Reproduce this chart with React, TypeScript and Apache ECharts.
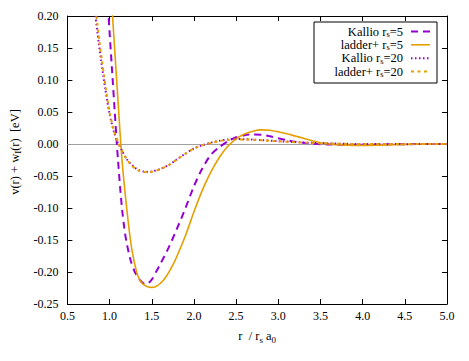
import React, { useEffect, useRef } from "react";
import * as echarts from "echarts";

// ---- data ----
const kallio5X = [0.95, 0.988, 1.03, 1.06, 1.086, 1.1, 1.125, 1.15, 1.175, 1.2, 1.25, 1.3, 1.35, 1.4, 1.43, 1.46, 1.5, 1.55, 1.6, 1.7, 1.8, 1.9, 2.0, 2.1, 2.2, 2.3, 2.4, 2.5, 2.6, 2.7, 2.8, 2.9, 3.0, 3.1, 3.2, 3.3, 3.4, 3.5, 3.7, 3.9, 4.1, 4.3, 4.5, 4.8, 5.0];
const kallio5Y = [0.29, 0.2, 0.114, 0.053, 0, -0.025, -0.068, -0.104, -0.132, -0.153, -0.182, -0.2, -0.211, -0.2175, -0.219, -0.2175, -0.212, -0.2, -0.188, -0.162, -0.132, -0.1, -0.066, -0.038, -0.017, -0.005, 0.004, 0.0105, 0.0138, 0.015, 0.0145, 0.012, 0.009, 0.006, 0.0035, 0.0018, 0.0006, -0.0002, -0.001, -0.0012, -0.001, -0.0006, -0.0003, 0, 0];

const ladder5X = [0.99, 1.035, 1.08, 1.11, 1.133, 1.157, 1.183, 1.222, 1.262, 1.32, 1.36, 1.4, 1.45, 1.5, 1.55, 1.6, 1.65, 1.7, 1.75, 1.8, 1.9, 2.0, 2.1, 2.2, 2.3, 2.4, 2.5, 2.6, 2.7, 2.8, 2.9, 3.0, 3.1, 3.2, 3.3, 3.4, 3.5, 3.6, 3.7, 3.8, 4.0, 4.2, 4.4, 4.6, 4.8, 5.0];
const ladder5Y = [0.29, 0.2, 0.108, 0.047, 0, -0.04, -0.075, -0.123, -0.163, -0.2, -0.213, -0.2195, -0.223, -0.224, -0.2225, -0.218, -0.211, -0.201, -0.189, -0.175, -0.143, -0.106, -0.072, -0.044, -0.021, -0.004, 0.008, 0.0155, 0.02, 0.022, 0.0215, 0.019, 0.016, 0.0125, 0.009, 0.005, 0.002, 0.0002, -0.001, -0.0018, -0.0022, -0.0018, -0.001, -0.0003, 0, 0];

const kallio20X = [0.8, 0.833, 0.87, 0.9, 0.95, 1.0, 1.05, 1.1, 1.15, 1.2, 1.25, 1.3, 1.35, 1.4, 1.45, 1.5, 1.6, 1.7, 1.8, 1.9, 2.0, 2.1, 2.2, 2.3, 2.4, 2.5, 2.6, 2.7, 2.8, 3.0, 3.2, 3.4, 3.6, 3.8, 4.0, 4.5, 5.0];
const kallio20Y = [0.25, 0.2, 0.16, 0.13, 0.085, 0.047, 0.02, 0.002, -0.011, -0.023, -0.031, -0.037, -0.041, -0.043, -0.0435, -0.043, -0.039, -0.033, -0.024, -0.015, -0.007, -0.002, 0.002, 0.005, 0.007, 0.008, 0.0075, 0.0068, 0.006, 0.0045, 0.003, 0.0018, 0.0009, 0.0003, 0, -0.0002, 0];

const ladder20X = [0.81, 0.845, 0.88, 0.91, 0.96, 1.0, 1.05, 1.1, 1.15, 1.2, 1.25, 1.3, 1.35, 1.4, 1.45, 1.5, 1.6, 1.7, 1.8, 1.9, 2.0, 2.1, 2.2, 2.3, 2.4, 2.5, 2.6, 2.7, 2.8, 3.0, 3.2, 3.4, 3.6, 3.8, 4.0, 4.5, 5.0];
const ladder20Y = [0.25, 0.2, 0.16, 0.13, 0.083, 0.05, 0.021, 0.003, -0.011, -0.023, -0.032, -0.038, -0.042, -0.0438, -0.044, -0.0435, -0.0395, -0.033, -0.024, -0.015, -0.007, -0.002, 0.0015, 0.0045, 0.0065, 0.0072, 0.0072, 0.0066, 0.0058, 0.0043, 0.0029, 0.0017, 0.0008, 0.0002, 0, -0.0002, 0];

const seriesNames = ["Kallio rs=5", "ladder+ rs=5", "Kallio rs=20", "ladder+ rs=20"];
const legendLabels = [
  "{a|Kallio r}{s|s}{a|=5}",
  "{a|ladder+ r}{s|s}{a|=5}",
  "{a|Kallio r}{s|s}{a|=20}",
  "{a|ladder+ r}{s|s}{a|=20}",
];

const PURPLE = "#9400d3";
const ORANGE = "#e69f00";
const FONT = "Liberation Serif";

const lineStyles = [
  { color: PURPLE, width: 2, type: [7, 5] as number[] | string },
  { color: ORANGE, width: 1.6, type: "solid" as number[] | string },
  { color: PURPLE, width: 2, type: [1.5, 2.5] as number[] | string },
  { color: ORANGE, width: 2, type: [3, 3.5] as number[] | string },
];

const zip = (xs: number[], ys: number[]) => xs.map((x, i) => [x, ys[i]]);
const seriesData = [
  zip(kallio5X, kallio5Y),
  zip(ladder5X, ladder5Y),
  zip(kallio20X, kallio20Y),
  zip(ladder20X, ladder20Y),
];

const makeRich = (size: number, subSize: number, drop: number) => ({
  a: { fontFamily: FONT, fontSize: size, color: "#000" },
  s: { fontFamily: FONT, fontSize: subSize, color: "#000", padding: [drop, 0, 0, 0] },
});

export default function App() {
  const ref = useRef<HTMLDivElement>(null);
  useEffect(() => {
    if (!ref.current) return;
    const chart = echarts.init(ref.current, undefined, { renderer: "svg" });

    const legendX0 = 403;
    const legendYs = [31, 44.3, 57.7, 71];
    const legendRich = makeRich(12.5, 8.5, 5);
    const legendGraphics: any[] = [
      {
        type: "rect",
        shape: { x: 314, y: 22, width: 123, height: 61 },
        style: { fill: "#fff", stroke: "#000", lineWidth: 1 },
        z: 100,
      },
    ];
    legendLabels.forEach((lab, i) => {
      legendGraphics.push({
        type: "text",
        x: legendX0,
        y: legendYs[i] + 0.5,
        z: 101,
        style: {
          text: lab,
          rich: legendRich,
          fontFamily: FONT,
          fontSize: 12.5,
          align: "right",
          verticalAlign: "middle",
          fill: "#000",
        },
      });
      const ls = lineStyles[i];
      legendGraphics.push({
        type: "line",
        z: 101,
        shape: { x1: 411, y1: legendYs[i] + 0.5, x2: 430, y2: legendYs[i] + 0.5 },
        style: {
          stroke: ls.color,
          lineWidth: ls.width,
          lineDash: Array.isArray(ls.type) ? ls.type : null,
        },
      });
    });

    const axisCommon = {
      axisLine: { show: true, onZero: false, lineStyle: { color: "#000", width: 1 } },
      axisTick: { show: true, inside: true, length: 5, lineStyle: { color: "#000" } },
      splitLine: { show: false },
    };

    chart.setOption({
      animation: false,
      backgroundColor: "#fff",
      textStyle: { fontFamily: FONT },
      grid: { left: 61, right: 22, top: 16, bottom: 57, containLabel: false },
      xAxis: [
        {
          type: "value",
          min: 0.5,
          max: 5,
          interval: 0.5,
          position: "bottom",
          ...axisCommon,
          axisLabel: {
            fontFamily: FONT,
            fontSize: 12,
            color: "#000",
            margin: 6,
            formatter: (v: number) => v.toFixed(1),
          },
          name: "{a|r  / r}{s|s}{a| a}{s|0}",
          nameLocation: "middle",
          nameGap: 24,
          nameTextStyle: { fontFamily: FONT, fontSize: 12.5, rich: makeRich(12.5, 9, 7) },
        },
        {
          type: "value",
          min: 0.5,
          max: 5,
          interval: 0.5,
          position: "top",
          ...axisCommon,
          axisLabel: { show: false },
        },
      ],
      yAxis: [
        {
          type: "value",
          min: -0.25,
          max: 0.2,
          interval: 0.05,
          position: "left",
          ...axisCommon,
          axisLabel: {
            fontFamily: FONT,
            fontSize: 12,
            color: "#000",
            margin: 9,
            formatter: (v: number) => (Math.abs(v) < 1e-9 ? "0.00" : v.toFixed(2)),
          },
          name: "{a|v(r) + w}{s|I}{a|(r)  [eV]}",
          nameLocation: "middle",
          nameGap: 42,
          nameTextStyle: { fontFamily: FONT, fontSize: 12.5, rich: makeRich(12.5, 9, 7), padding: [0, 0, 0, 16] },
        },
        {
          type: "value",
          min: -0.25,
          max: 0.2,
          interval: 0.05,
          position: "right",
          ...axisCommon,
          axisLabel: { show: false },
        },
      ],
      series: seriesData.map((d, i) => ({
        name: seriesNames[i],
        type: "line",
        xAxisIndex: 0,
        yAxisIndex: 0,
        data: d,
        showSymbol: false,
        smooth: 0.25,
        clip: true,
        lineStyle: lineStyles[i],
        itemStyle: { color: lineStyles[i].color },
        z: 3 + i,
        ...(i === 0
          ? {
              markLine: {
                silent: true,
                symbol: "none",
                label: { show: false },
                lineStyle: { color: "#a0a0a0", width: 1, type: "solid" },
                data: [{ yAxis: 0 }],
                z: 1,
              },
            }
          : {}),
      })),
      graphic: legendGraphics,
    });

    return () => chart.dispose();
  }, []);

  return (
    <div
      ref={ref}
      style={{ position: "fixed", left: 0, top: 0, width: 469, height: 361 }}
    />
  );
}
